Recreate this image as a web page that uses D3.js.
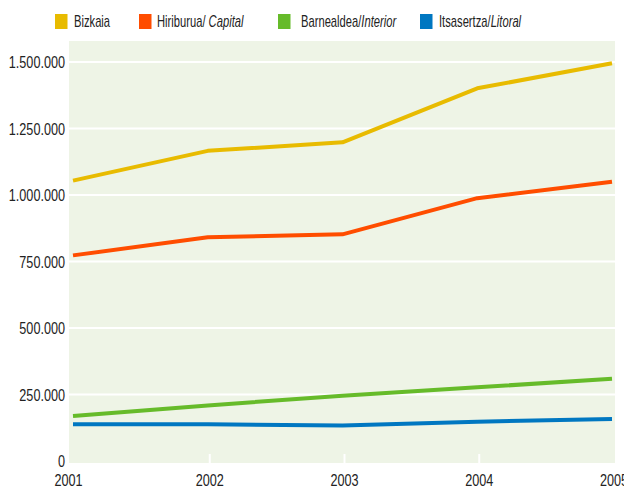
<!DOCTYPE html>
<html>
<head>
<meta charset="utf-8">
<script src="https://cdn.jsdelivr.net/npm/d3@7"></script>
<style>
  body { margin: 0; background: #fff; }
  text { font-family: "Liberation Sans", Arial, sans-serif; fill: #222; }
</style>
</head>
<body>
<script>
// data
var years = [2001, 2002, 2003, 2004, 2005];
var bizkaia  = [1054000, 1166000, 1198000, 1401000, 1495000];
var capital  = [773000, 841000, 852000, 988000, 1050000];
var interior = [169000, 209000, 245000, 277000, 309000];
var litoral  = [138000, 138000, 133000, 148000, 158000];
var yTicks = [0, 250000, 500000, 750000, 1000000, 1250000, 1500000];

var seriesNames = ['Bizkaia', 'Hiriburua/', 'Barnealdea/', 'Itsasertza/'];
var seriesItalic = ['', ' Capital', 'Interior', 'Litoral'];
var seriesValues = [bizkaia, capital, interior, litoral];
var colors = ['#e8bb00', '#ff4d00', '#66bb2a', '#0077c1'];

var width = 624, height = 488;
var plot = {left: 69, right: 615, top: 41, bottom: 463};
var squeeze = 0.79; // fake a condensed face

var svg = d3.select('body')
    .append('svg')
    .attr('width', width)
    .attr('height', height);

var x = d3.scaleLinear()
    .domain([2001, 2005])
    .range([73, 612]);

var y = d3.scaleLinear()
    .domain([0, 1500000])
    .range([461, 62]);

function place(px, py, s) {
    return 'translate(' + px + ',' + py + ') scale(' + s + ',1)';
}

// background
svg.append('rect')
    .attr('x', plot.left)
    .attr('y', plot.top)
    .attr('width', plot.right - plot.left)
    .attr('height', plot.bottom - plot.top)
    .style('fill', '#eef4e6');

// gridlines
svg.selectAll('.grid')
    .data(yTicks.slice(1))
    .enter()
    .append('line')
    .attr('class', 'grid')
    .attr('x1', plot.left)
    .attr('x2', plot.right)
    .attr('y1', function(d) { return y(d); })
    .attr('y2', function(d) { return y(d); })
    .style('stroke', '#fff')
    .style('stroke-width', 2);

// small tick marks at the bottom
svg.selectAll('.xtick')
    .data(years.slice(1, 4))
    .enter()
    .append('line')
    .attr('x1', function(d) { return x(d) + 2; })
    .attr('x2', function(d) { return x(d) + 2; })
    .attr('y1', plot.bottom - 9)
    .attr('y2', plot.bottom)
    .style('stroke', '#fff')
    .style('stroke-width', 2);

// y labels
var fmt = function(v) {
    return v === 0 ? '0' : d3.format(',')(v).replace(/,/g, '.');
};
svg.selectAll('.ylab')
    .data(yTicks)
    .enter()
    .append('text')
    .attr('transform', function(d) { return place(65, y(d) + 6, squeeze); })
    .style('text-anchor', 'end')
    .style('font-size', '16px')
    .text(fmt);

// x labels
svg.selectAll('.xlab')
    .data(years)
    .enter()
    .append('text')
    .attr('transform', function(d, i) { return place(i === 0 ? 68.5 : x(d) + 2, 486, squeeze); })
    .style('text-anchor', 'middle')
    .style('font-size', '16px')
    .text(function(d) { return d; });

// lines
var line = d3.line()
    .x(function(d, i) { return x(years[i]); })
    .y(function(d) { return y(d); });

svg.selectAll('.series')
    .data(seriesValues)
    .enter()
    .append('path')
    .attr('d', line)
    .style('fill', 'none')
    .style('stroke', function(d, i) { return colors[i]; })
    .style('stroke-width', 4)
    .style('stroke-linejoin', 'round');

// legend
var legendX = [55, 139, 278, 420];
var legendGap = [19, 18, 23, 19];
var legend = svg.selectAll('.legend')
    .data(seriesNames)
    .enter()
    .append('g')
    .attr('transform', function(d, i) { return 'translate(' + legendX[i] + ',14)'; });

legend.append('rect')
    .attr('width', 12.5)
    .attr('height', 15)
    .style('fill', function(d, i) { return colors[i]; });

var lt = legend.append('text')
    .attr('transform', function(d, i) { return place(legendGap[i], 12.5, 0.7); })
    .style('font-size', '16px');
lt.append('tspan').text(function(d) { return d; });
lt.append('tspan')
    .style('font-style', 'italic')
    .text(function(d, i) { return seriesItalic[i]; });
</script>
</body>
</html>
